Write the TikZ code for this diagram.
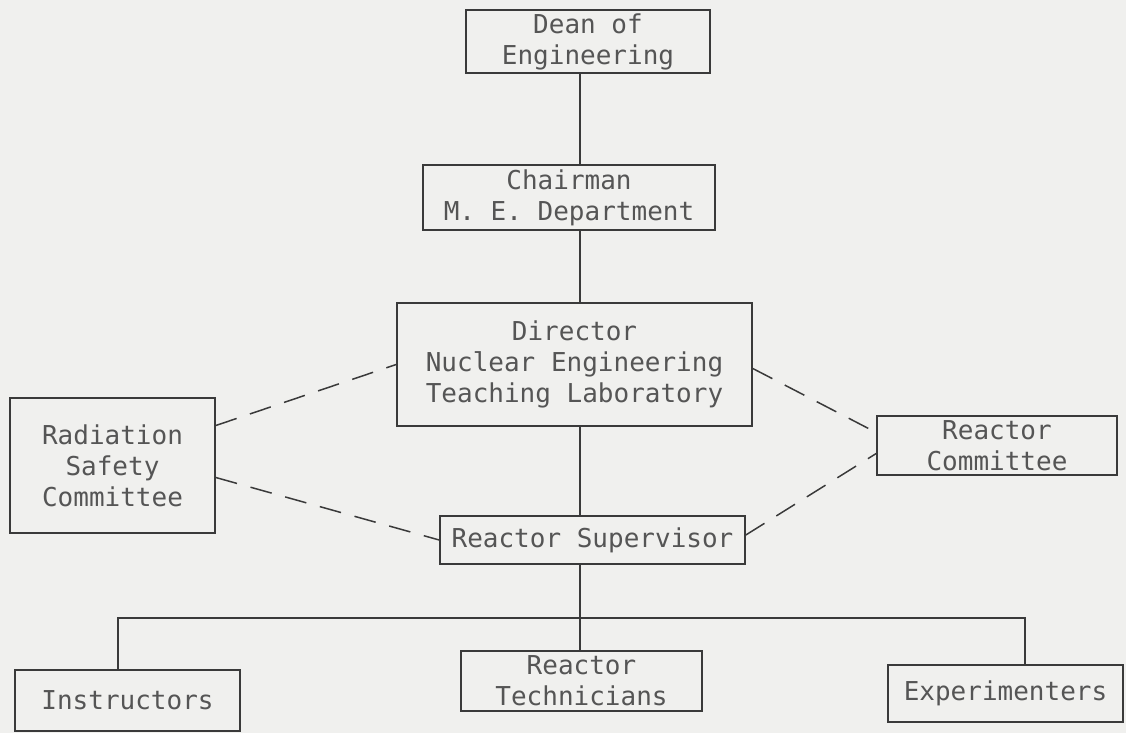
\documentclass[tikz,border=0pt]{standalone}
\usepackage{fontspec}
\newfontfamily\orgfont{DejaVu Sans Mono}
\definecolor{paper}{HTML}{F0F0EE}
\definecolor{ink}{HTML}{3A3A3A}
\definecolor{txt}{HTML}{555555}
\begin{document}
\begin{tikzpicture}[x=1pt,y=-1pt,
  box/.style={draw=ink, line width=1.6pt, text=txt,
    font=\orgfont\fontsize{26}{31}\selectfont, align=center, inner sep=0pt},
  link/.style={draw=ink, line width=1.5pt},
  dlink/.style={link, dash pattern=on 22pt off 14pt}]
\fill[paper] (0,0) rectangle (1126,733);
\useasboundingbox (0,0) rectangle (1126,733);

\node[box, minimum width=244pt, minimum height=63pt] (dean) at (588,41.5) {Dean of\\Engineering};
\node[box, minimum width=292pt, minimum height=65pt] (chair) at (569,197.5) {Chairman\\M. E. Department};
\node[box, minimum width=355pt, minimum height=123pt] (dir) at (574.5,364.5) {Director\\Nuclear Engineering\\Teaching Laboratory};
\node[box, minimum width=205pt, minimum height=135pt] (rsc) at (112.5,465.5) {Radiation\\Safety\\Committee};
\node[box, minimum width=240pt, minimum height=59pt] (rc) at (997,445.5) {Reactor\\Committee};
\node[box, minimum width=305pt, minimum height=48pt] (sup) at (592.5,540) {Reactor Supervisor};
\node[box, minimum width=225pt, minimum height=61pt] (inst) at (127.5,700.5) {Instructors};
\node[box, minimum width=241pt, minimum height=60pt] (tech) at (581.5,681) {Reactor\\Technicians};
\node[box, minimum width=235pt, minimum height=57pt] (exp) at (1005.5,693.5) {Experimenters};

\coordinate (spine) at (580,0);
\coordinate (busL) at (118,618);
\coordinate (busR) at (1025,618);

\draw[link] (dean.south -| spine) -- (chair.north -| spine);
\draw[link] (chair.south -| spine) -- (dir.north -| spine);
\draw[link] (dir.south -| spine) -- (sup.north -| spine);
\draw[link] (sup.south -| spine) -- (tech.north -| spine);
\draw[link] (busL |- inst.north) -- (busL) -- (busR) -- (busR |- exp.north);

\draw[dlink] ([yshift=40pt]rsc.east) -- (dir.west);
\draw[dlink] ([yshift=-12pt]rsc.east) -- (sup.west);
\draw[dlink] ([yshift=-4pt]dir.east) -- ([yshift=13pt]rc.west);
\draw[dlink] ([yshift=5pt]sup.east) -- ([yshift=-8pt]rc.west);
\end{tikzpicture}
\end{document}
